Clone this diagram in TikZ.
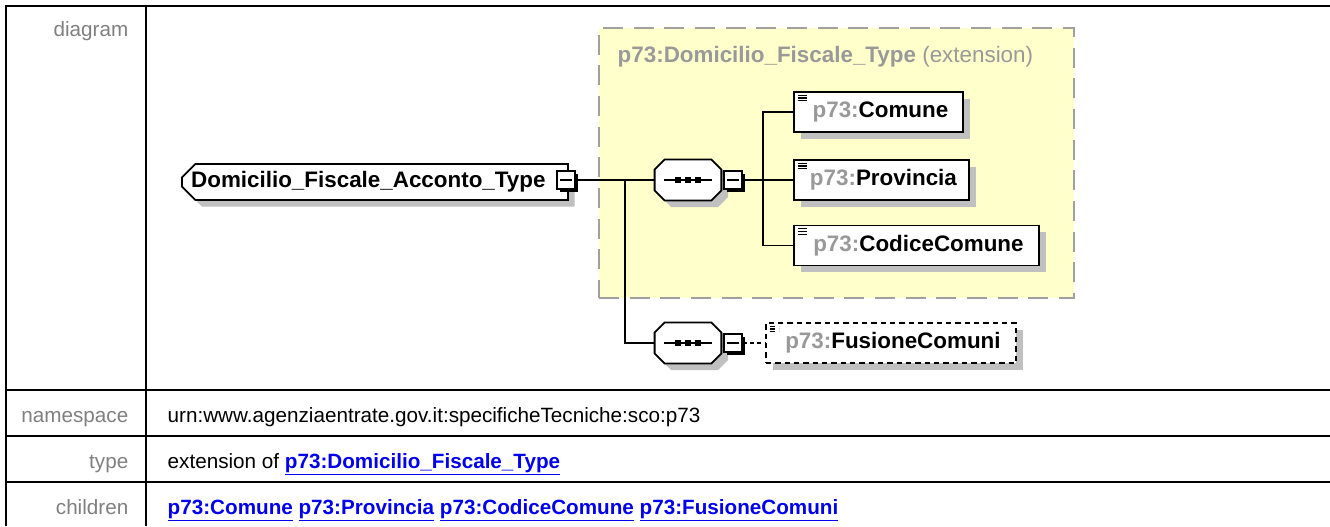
\documentclass[tikz,border=0pt]{standalone}
\usepackage{fontspec}
\setmainfont{Liberation Sans}
\usetikzlibrary{positioning,shapes.misc,shadows}
\definecolor{xsyellow}{HTML}{FFFFCC}
\definecolor{xsframe}{HTML}{A0A0A0}
\definecolor{xsshadow}{HTML}{C0C0C0}
\definecolor{xsgray}{HTML}{999999}
\definecolor{xslabel}{HTML}{808080}
\definecolor{xslink}{HTML}{0000EE}
\newcommand\diagfont{\fontsize{16.8}{20}\selectfont}
\newcommand\tabfont{\fontsize{15.5}{19}\selectfont}
\newcommand\pfx{{\color{xsgray}p73:}}
\newcommand\xlink[1]{{\color{xslink}\bfseries\underline{#1}}}
% octagon of a sequence compositor, round (0,0)
\newcommand\octpath{(-17.5pt,15.4pt) -- (17.5pt,15.4pt) -- (25pt,7.9pt) -- (25pt,-7.9pt)
  -- (17.5pt,-15.4pt) -- (-17.5pt,-15.4pt) -- (-25pt,-7.9pt) -- (-25pt,7.9pt) -- cycle}

\begin{document}
\begin{tikzpicture}[x=0.75pt, y=-0.75pt,
    xsshade/.style={drop shadow={shadow xshift=5pt, shadow yshift=-5pt, opacity=1, fill=xsshadow}},
    rootbox/.style={chamfered rectangle, chamfered rectangle corners={north west,south west},
      chamfered rectangle xsep=5pt, chamfered rectangle ysep=5pt, draw, line width=1.4pt,
      fill=white, xsshade, minimum width=289.5pt, minimum height=27pt, inner sep=0pt,
      font=\diagfont\bfseries},
    seqbox/.style={rectangle, minimum width=50pt, minimum height=30.8pt, inner sep=0pt},
    minbox/.style={draw, fill=white, line width=1pt, minimum size=13.5pt, inner sep=0pt,
      drop shadow={shadow xshift=2.2pt, shadow yshift=-2.2pt, opacity=1, fill=black},
      path picture={\draw[line width=0.9pt] ([xshift=2.5pt]path picture bounding box.west)
        -- ([xshift=-2.5pt]path picture bounding box.east);}},
    elembox/.style={draw, fill=white, line width=1.4pt, xsshade, anchor=west, minimum height=30pt,
      inner sep=0pt, font=\diagfont\bfseries,
      path picture={\foreach \k in {0,1,2}{\draw[line width=0.8pt]
        ([shift={(3pt,-2.5pt-\k*2pt)}]path picture bounding box.north west) -- ++(7pt,0);}}},
    optbox/.style={elembox, dash pattern=on 4pt off 3pt},
    extbox/.style={draw=xsframe, fill=xsyellow, line width=1.5pt, dash pattern=on 15pt off 8pt,
      anchor=north west, inner sep=0pt},
    wire/.style={line width=1.1pt},
    rule/.style={line width=2pt},
    tablabel/.style={anchor=base east, font=\tabfont, text=xslabel},
    tabvalue/.style={anchor=base west, font=\tabfont}]
  \useasboundingbox (0,0) rectangle (1330,526);
  \fill[white] (0,0) rectangle (1330,526);
  % table rules
  \draw[rule] (1330,6) -- (6,6) -- (6,526);
  \draw[rule] (146,6) -- (146,526);
  \foreach \y in {390,436,482}{
    \draw[rule] (6,\y) -- (1330,\y);
  }
  % row labels
  \node[tablabel] (lbdiag) at (133,36) {diagram};
  \node[tablabel] (lbns) at (133,422) {namespace};
  \node[tablabel] (lbtype) at (133,468) {type};
  \node[tablabel] (lbchild) at (133,514) {children};
  % row values
  \node[tabvalue] (valns) at (163,422) {urn:www.agenziaentrate.gov.it:specificheTecniche:sco:p73};
  \node[tabvalue] (valtype) at (163,468) {extension of \xlink{p73:Domicilio\_Fiscale\_Type}};
  \node[tabvalue] (valchild) at (163,514) {\xlink{p73:Comune} \xlink{p73:Provincia} \xlink{p73:CodiceComune} \xlink{p73:FusioneComuni}};
  % extension frame
  \node[extbox, minimum width=356.25pt, minimum height=202.5pt] (ext) at (598,27) {};
  \node[anchor=base west, font=\diagfont, text=xsgray] (exttitle) at (613,62)
    {\textbf{p73:Domicilio\_Fiscale\_Type} (extension)};
  % complex type
  \node[rootbox] (root) at (375,182) {Domicilio\_Fiscale\_Acconto\_Type\kern10pt};
  \node[minbox] (rootmin) at (566,180) {};
  % sequences
  \node[seqbox] (seqA) at (688,180) {};
  \node[seqbox] (seqB) at (688,343) {};
  \foreach \s in {seqA,seqB}{
    \begin{scope}[shift={(\s.center)}]
      \fill[xsshadow, shift={(5pt,-5pt)}] \octpath;
      \draw[line width=1.4pt, fill=white] \octpath;
      \draw[line width=1.2pt] (-18pt,0pt) -- (18pt,0pt);
      \foreach \d in {-7.5,0,7.5}
        \fill (\d pt-2.2pt,-2.2pt) rectangle (\d pt+2.2pt,2.2pt);
    \end{scope}
  }
  \node[minbox] (minA) at (733,180) {};
  \node[minbox] (minB) at (733,343) {};
  % elements
  \node[elembox, minimum width=126.75pt] (comune) at (793,112) {\hspace*{3pt}\pfx Comune};
  \node[elembox, minimum width=131.25pt] (provincia) at (793,180) {\hspace*{3pt}\pfx Provincia};
  \node[elembox, minimum width=183.75pt] (codice) at (793,245.5) {\hspace*{3pt}\pfx CodiceComune};
  \node[optbox, minimum width=187.5pt] (fusione) at (765,343) {\hspace*{3pt}\pfx FusioneComuni};
  % connectors
  \coordinate (forkA) at (625,180);
  \coordinate (busA) at (763,180);
  \draw[wire] (rootmin) -- (seqA);
  \draw[wire] (forkA) |- (seqB);
  \draw[wire] (minA) -- (provincia);
  \draw[wire] (busA) |- (comune.west);
  \draw[wire] (busA) |- (codice.west);
  \draw[wire, dash pattern=on 3pt off 2.5pt] (minB) -- (fusione);
\end{tikzpicture}
\end{document}
